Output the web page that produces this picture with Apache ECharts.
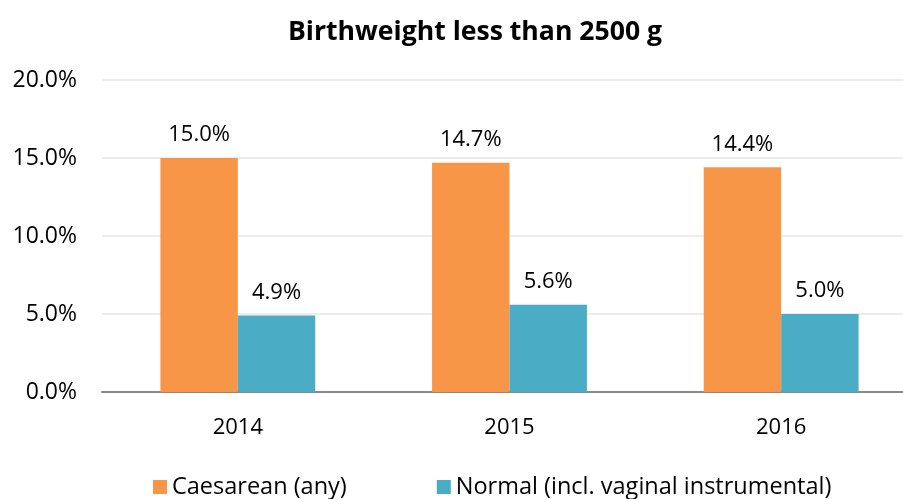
<!DOCTYPE html>
<html><head><meta charset="utf-8">
<script src="https://cdn.jsdelivr.net/npm/echarts@6/dist/echarts.min.js"></script>
<style>html,body{margin:0;padding:0;background:#fff}#c{width:903px;height:499px}</style>
</head><body><div id="c"></div>
<script>
const titleText = 'Birthweight less than 2500 g';
const categories = ['2014', '2015', '2016'];
const seriesNames = ['Caesarean (any)', 'Normal (incl. vaginal instrumental)'];
const caesarean = [15.0, 14.7, 14.4];
const normal = [4.9, 5.6, 5.0];
const yTicks = [0, 5, 10, 15, 20];

const FONT = 'Open Sans';
const chart = echarts.init(document.getElementById('c'), null, {renderer: 'canvas'});
const lbl = {show: true, position: 'top', distance: 12, color: '#000', fontFamily: FONT, fontSize: 22,
  formatter: p => p.value.toFixed(1) + '%'};
chart.setOption({
  animation: false,
  title: {text: titleText, left: 283, top: 14,
    textStyle: {fontFamily: FONT, fontWeight: 'bold', fontSize: 26.6, color: '#000'}},
  legend: {bottom: -5, left: 148, itemWidth: 14, itemHeight: 14, itemGap: 90, icon: 'rect',
    textStyle: {fontFamily: FONT, fontSize: 23.5, color: '#000'}},
  grid: {left: 102, width: 815, top: 80, bottom: 107, containLabel: false, outerBoundsMode: 'none'},
  xAxis: {type: 'category', data: categories,
    axisLine: {lineStyle: {color: '#898989', width: 2}}, axisTick: {show: false},
    axisLabel: {color: '#000', fontFamily: FONT, fontSize: 22, margin: 25}},
  yAxis: {type: 'value', min: yTicks[0], max: yTicks[yTicks.length - 1], interval: 5,
    axisLine: {show: false}, axisTick: {show: false},
    splitLine: {lineStyle: {color: '#ececec', width: 2}},
    axisLabel: {color: '#000', fontFamily: FONT, fontSize: 23, margin: 25,
      formatter: v => v.toFixed(1) + '%'}},
  series: [
    {name: seriesNames[0], type: 'bar', data: caesarean, itemStyle: {color: '#F79646'},
      barGap: '0%', barCategoryGap: '43%', label: lbl},
    {name: seriesNames[1], type: 'bar', data: normal, itemStyle: {color: '#4BACC6'},
      barGap: '0%', barCategoryGap: '43%', label: lbl}
  ]
});
</script></body></html>
